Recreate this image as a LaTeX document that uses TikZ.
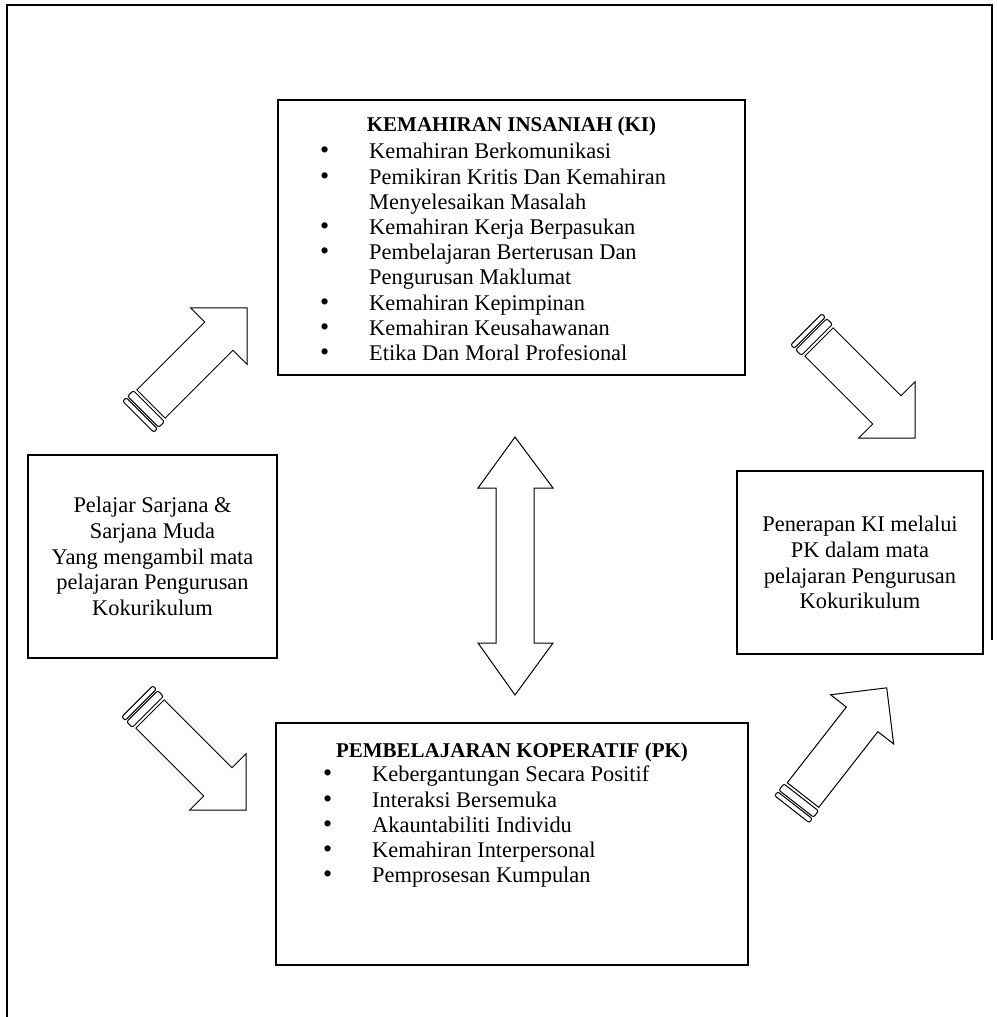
\documentclass[tikz,border=0pt]{standalone}
\usepackage{fontspec}
\setmainfont{Liberation Serif}
\usetikzlibrary{positioning}

\tikzset{
  box/.style={draw, line width=1.5pt, inner sep=0pt},
  arrowline/.style={draw, line width=1pt, fill=white},
  frameline/.style={line width=1.2pt},
  bodytext/.style={font=\fontsize{22.4}{25.8}\selectfont, inner sep=0pt},
  listtext/.style={font=\fontsize{22.4}{25.2}\selectfont, inner sep=0pt},
  headtext/.style={font=\fontsize{21}{25.8}\selectfont\bfseries, inner sep=0pt},
  pics/tailarrow/.style={code={
    \draw[arrowline] (0,-20) -- (96,-20) -- (96,-40) -- (136,0) -- (96,40) -- (96,20) -- (0,20) -- cycle;
    \draw[arrowline, rounded corners=2pt] (-11,-22) rectangle (-3,22);
    \draw[arrowline, rounded corners=2pt] (-18,-22) rectangle (-13,22);
  }}
}
\newcommand{\bul}{{\fontsize{26}{0}\selectfont\textbullet}}

\begin{document}
\begin{tikzpicture}[x=1pt, y=-1pt]
  \useasboundingbox (0,0) rectangle (996,1017);

  % outer frame
  \draw[frameline] (7,1017) -- (7,5) -- (992,5) -- (992,640);

  % the four boxes
  \node[box, minimum width=467pt, minimum height=275pt] (ki) at (511.5,237.5) {};
  \node[box, minimum width=472pt, minimum height=242pt] (pk) at (512,844) {};
  \node[box, minimum width=249pt, minimum height=203pt] (pelajar) at (152.5,556.5) {};
  \node[box, minimum width=246pt, minimum height=183pt] (penerapan) at (860,562.5) {};

  % texts
  \node[headtext] (kititle) at (511.5,126) {KEMAHIRAN INSANIAH (KI)};
  \node[listtext, anchor=north west] (kilist) at (320,141) {%
    \begin{tabular}{@{}p{49pt}@{}l@{}}
      \bul & Kemahiran Berkomunikasi\\
      \bul & Pemikiran Kritis Dan Kemahiran\\
           & Menyelesaikan Masalah\\
      \bul & Kemahiran Kerja Berpasukan\\
      \bul & Pembelajaran Berterusan Dan\\
           & Pengurusan Maklumat\\
      \bul & Kemahiran Kepimpinan\\
      \bul & Kemahiran Keusahawanan\\
      \bul & Etika Dan Moral Profesional
    \end{tabular}};

  \node[headtext] (pktitle) at (512,752) {PEMBELAJARAN KOPERATIF (PK)};
  \node[listtext, anchor=north west] (pklist) at (323,764) {%
    \begin{tabular}{@{}p{49pt}@{}l@{}}
      \bul & Kebergantungan Secara Positif\\
      \bul & Interaksi Bersemuka\\
      \bul & Akauntabiliti Individu\\
      \bul & Kemahiran Interpersonal\\
      \bul & Pemprosesan Kumpulan
    \end{tabular}};

  \node[bodytext, align=center] (pelajartext) at (pelajar) {Pelajar Sarjana \&\\Sarjana Muda\\Yang mengambil mata\\pelajaran Pengurusan\\Kokurikulum};
  \node[bodytext, align=center] (penerapantext) at (penerapan) {Penerapan KI melalui\\PK dalam mata\\pelajaran Pengurusan\\Kokurikulum};

  % block arrows
  \pic[rotate=45] at (151,404) {tailarrow};
  \pic[rotate=-45] at (150,714) {tailarrow};
  \pic[rotate=-45] at (819,342) {tailarrow};
  \pic[rotate=52] at (803,795) {tailarrow};

  % two-way arrow between KI and PK
  \draw[arrowline] (515,437) -- (553,488) -- (534,488) -- (534,643) -- (553,643) -- (515,695)
    -- (478,643) -- (496,643) -- (496,488) -- (478,488) -- cycle;
\end{tikzpicture}
\end{document}
